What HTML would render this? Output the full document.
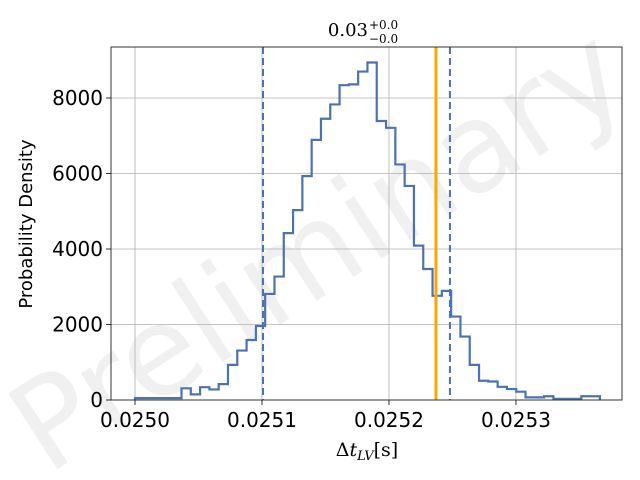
<!DOCTYPE html>
<html><head><meta charset="utf-8"><style>
body{margin:0;background:#fff;width:640px;height:480px;overflow:hidden}
svg{display:block}
svg text{font-family:"DejaVu Sans","Liberation Sans",sans-serif}
</style></head><body>
<svg id="chart" width="640" height="480" xmlns="http://www.w3.org/2000/svg">
<text x="318" y="292" transform="rotate(-33 318 250)" font-size="124" fill="#000" fill-opacity="0.06" text-anchor="middle">Preliminary</text>
<g id="grid"></g>
<g id="hist"></g>
<g id="vlines"></g>
<rect x="111" y="47" width="511" height="353" fill="none" stroke="#333" stroke-width="1"/>
<g id="ticks"></g>
<text x="368" y="36" font-size="18" text-anchor="end" style="font-family:'DejaVu Serif',serif">0.03</text>
<text x="369" y="29" font-size="12" style="font-family:'DejaVu Serif',serif">+0.0</text>
<text x="369" y="43" font-size="12" style="font-family:'DejaVu Serif',serif">−0.0</text>
<text x="32" y="224" font-size="18" text-anchor="middle" transform="rotate(-90 32 224)">Probability Density</text>
<text x="367" y="456" font-size="19" text-anchor="middle" style="font-family:'DejaVu Serif',serif">Δ<tspan font-style="italic">t</tspan><tspan font-size="13" dy="4" font-style="italic">LV</tspan><tspan dy="-4">[s]</tspan></text>
</svg>
<script>
const counts=[50,50,50,50,50,310,150,340,280,420,930,1310,1590,1960,2810,3270,4420,5030,5930,6890,7450,7830,8340,8360,8700,8940,7390,7210,6240,5670,4090,3470,2760,2890,2210,1680,930,510,490,350,290,220,70,70,100,30,30,30,100,100];
const binStart=0.02500, binEnd=0.0253661;
const xTicks=[0.0250,0.0251,0.0252,0.0253];
const xTickLabels=["0.0250","0.0251","0.0252","0.0253"];
const yTicks=[0,2000,4000,6000,8000];
const dashedLines=[0.0251008,0.0252480];
const truthValue=0.025237;
const X0=111,X1=622,Y0=400,Y1=47,xmin=0.0249811,xmax=0.0253835,ymin=0,ymax=9351;
const sx=v=>X0+(v-xmin)/(xmax-xmin)*(X1-X0);
const sy=v=>Y0-(v-ymin)/(ymax-ymin)*(Y0-Y1);
const NS="http://www.w3.org/2000/svg";
function mk(t,a,p){const e=document.createElementNS(NS,t);for(const k in a)e.setAttribute(k,a[k]);p.appendChild(e);return e;}
const grid=document.getElementById('grid'),ticks=document.getElementById('ticks');
xTicks.forEach((v,i)=>{
 const g=mk('line',{x1:sx(v),x2:sx(v),y1:Y1,y2:Y0,stroke:'#b0b0b0','stroke-width':0.8},grid);
 
 
 const t=mk('line',{x1:sx(v),x2:sx(v),y1:Y0,y2:Y0+5,stroke:'#000','stroke-width':0.8},ticks);
 
 
 const l=mk('text',{x:sx(v),y:Y0+27,'font-size':20,'text-anchor':'middle'},ticks);
 l.textContent=xTickLabels[i];
 
 
});
yTicks.forEach(v=>{
 const g=mk('line',{x1:X0,x2:X1,y1:sy(v),y2:sy(v),stroke:'#b0b0b0','stroke-width':0.8},grid);
 
 
 const t=mk('line',{x1:X0-5,x2:X0,y1:sy(v),y2:sy(v),stroke:'#000','stroke-width':0.8},ticks);
 
 
 const l=mk('text',{x:X0-8,y:sy(v)+7,'font-size':20,'text-anchor':'end'},ticks);
 l.textContent=String(v);
 
 
});
const n=counts.length,w=(binEnd-binStart)/n;
let d='M'+sx(binStart)+','+sy(0);
counts.forEach((c,i)=>{d+=' L'+sx(binStart+i*w)+','+sy(c)+' L'+sx(binStart+(i+1)*w)+','+sy(c);});
d+=' L'+sx(binEnd)+','+sy(0);
const p=mk('path',{d:d,fill:'none',stroke:'#4c72b0','stroke-width':2.2,'stroke-linejoin':'miter'},document.getElementById('hist'));


const vl=document.getElementById('vlines');
const o=mk('line',{x1:sx(truthValue),x2:sx(truthValue),y1:Y1,y2:Y0,stroke:'#ffa500','stroke-width':3},vl);


dashedLines.forEach(v=>{
 const e=mk('line',{x1:sx(v),x2:sx(v),y1:Y1,y2:Y0,stroke:'#4c72b0','stroke-width':2,'stroke-dasharray':'7,4'},vl);
 
 
});
</script>
</body></html>
